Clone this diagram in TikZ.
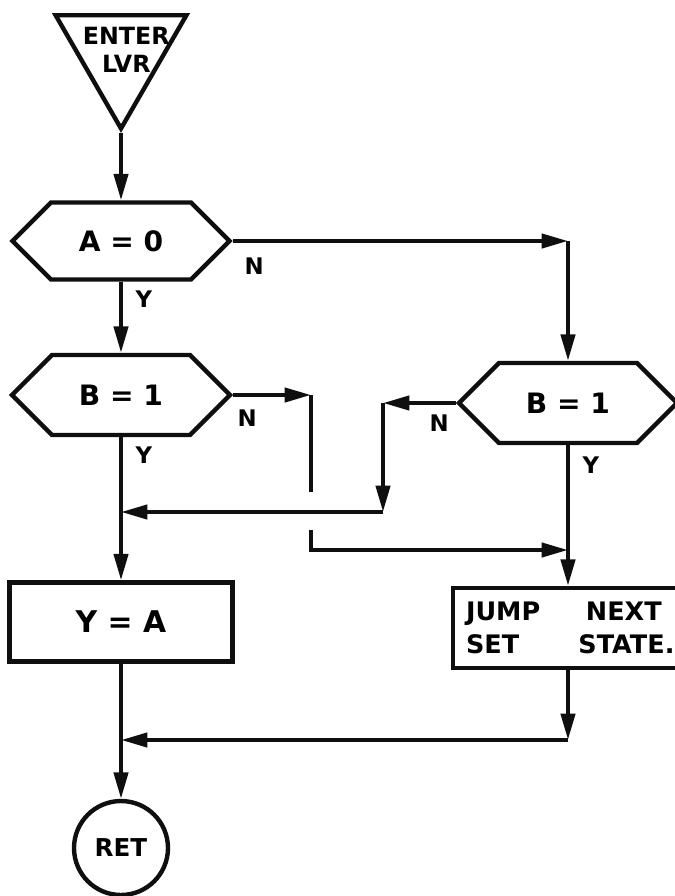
\documentclass[tikz,border=0pt]{standalone}
\usepackage{fontspec}
\setmainfont{DejaVu Sans}
\usepackage{tikz}
\usetikzlibrary{shapes.geometric, shapes.symbols, arrows.meta, positioning}
\definecolor{ink}{RGB}{15,15,15}
\tikzset{
  decision/.style={signal, signal to=east and west, signal pointer angle=90,
    draw=ink, line width=2.5pt, minimum width=4.36cm, minimum height=1.6cm,
    inner sep=0pt, font=\bfseries\fontsize{16}{18}\selectfont},
  block/.style={rectangle, draw=ink, line width=2.5pt, minimum width=4.46cm,
    minimum height=1.58cm, inner sep=0pt, font=\bfseries\fontsize{17}{19}\selectfont},
  wblock/.style={rectangle, draw=ink, line width=2.5pt, text width=4.08cm,
    minimum height=1.6cm, inner xsep=0.26cm, align=left,
    font=\bfseries\fontsize{14.5}{19}\selectfont},
  terminal/.style={regular polygon, regular polygon sides=3,
    shape border rotate=180, draw=ink, line width=2.5pt,
    minimum size=3.02cm, inner sep=0pt},
  tlabel/.style={align=center, inner sep=0pt,
    font=\bfseries\fontsize{13.5}{16}\selectfont},
  retnode/.style={circle, draw=ink, line width=2.5pt, minimum size=1.88cm,
    inner sep=0pt, font=\bfseries\fontsize{14}{16}\selectfont},
  lbl/.style={inner sep=1pt, font=\bfseries\fontsize{13}{15}\selectfont},
  arrow/.style={-{Triangle[length=15pt, width=8pt]}, line width=2.3pt, color=ink},
  line/.style={line width=2.3pt, color=ink}
}
\begin{document}
\begin{tikzpicture}[x=0.02cm, y=-0.02cm]
  \useasboundingbox (0,0) rectangle (675,896);

  % ── Left column: entry, tests, assignment, return ──────────────────────
  \node[terminal, label={[tlabel, yshift=2pt, xshift=3pt]center:{ENTER\\LVR}}] (enter) at (121,53) {};
  \node[decision, minimum width=4.34cm, minimum height=1.54cm] (a0) at (121,241) {A = 0};
  \node[decision] (b1l) at (121,395) {B = 1};
  \node[block] (yeqa) at (121,622) {Y = A};
  \node[retnode] (ret) at (121,848) {RET};

  % ── Right column: second test and jump box ──────────────────────────────
  \node[decision] (b1r) at (568,403) {B = 1};
  \node[wblock] (jump) at (568,628)
    {\makebox[2.4cm][l]{JUMP}NEXT\\\makebox[2.25cm][l]{SET}STATE.};

  % ── Branch corners and junctions ────────────────────────────────────────
  \coordinate (cna) at (568,241);
  \coordinate (cnb) at (311,395);
  \coordinate (gaptop) at (311,492);
  \coordinate (gapbot) at (311,530);
  \coordinate (jr) at (568,550);
  \coordinate (cnc) at (383,403);
  \coordinate (cnd) at (383,512);
  \coordinate (jl) at (121,512);
  \coordinate (cj) at (568,740);
  \coordinate (jb) at (121,740);

  % ── Main path ───────────────────────────────────────────────────────────
  \draw[arrow] (enter.south) -- (a0.north);
  \draw[arrow] (a0.south) -- (b1l.north);
  \draw[line]  (b1l.south) -- (jl);
  \draw[arrow] (jl) -- (yeqa.north);
  \draw[line]  (yeqa.south) -- (jb);
  \draw[arrow] (jb) -- (ret.north);

  % ── A = 0 "N" branch ────────────────────────────────────────────────────
  \draw[arrow] (a0.east) -- (cna);
  \draw[arrow] (cna) -- (b1r.north);

  % ── Left B = 1 "N" branch (crosses the return line) ─────────────────────
  \draw[arrow] (b1l.east) -- (cnb);
  \draw[line]  (cnb) -- (gaptop);
  \draw[arrow] (gapbot) |- (jr);

  % ── Right B = 1 branches ────────────────────────────────────────────────
  \draw[arrow] (b1r.south) -- (jump.north);
  \draw[arrow] (b1r.west) -- (cnc);
  \draw[arrow] (cnc) -- (cnd);
  \draw[arrow] (cnd) -- (jl);

  % ── Jump box back to return ─────────────────────────────────────────────
  \draw[arrow] (jump.south) -- (cj);
  \draw[arrow] (cj) -- (jb);

  % ── Branch labels ───────────────────────────────────────────────────────
  \node[lbl, below right=0.3cm and 0.2cm of a0.east] (na) {N};
  \node[lbl, below right=0.15cm and 0.25cm of a0.south] (ya) {Y};
  \node[lbl, below right=0.25cm and 0.05cm of b1l.east] (nb) {N};
  \node[lbl, below right=0.15cm and 0.25cm of b1l.south] (yb) {Y};
  \node[lbl, below left=0.2cm and 0.1cm of b1r.west] (nc) {N};
  \node[lbl, below right=0.2cm and 0.25cm of b1r.south] (yc) {Y};
\end{tikzpicture}
\end{document}
